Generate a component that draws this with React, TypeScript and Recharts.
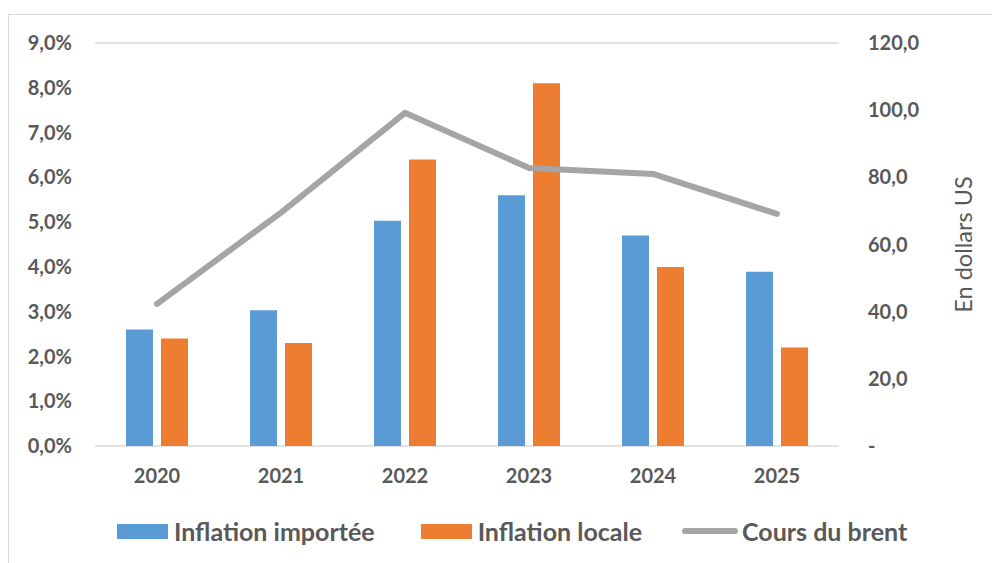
import React from 'react';
import {
  ComposedChart,
  Bar,
  Line,
  XAxis,
  YAxis,
  CartesianGrid,
  Legend,
  Label,
} from 'recharts';

const years = ['2020', '2021', '2022', '2023', '2024', '2025'];
const inflationImportee = [2.6, 3.03, 5.03, 5.6, 4.7, 3.89];
const inflationLocale = [2.4, 2.3, 6.4, 8.1, 4.0, 2.2];
const coursBrent = [42.3, 69.5, 99.2, 82.8, 81.0, 69.1];
const leftTicks = [0, 1, 2, 3, 4, 5, 6, 7, 8, 9];
const rightTicks = [0, 20, 40, 60, 80, 100, 120];

const data = years.map((year, i) => ({
  year,
  importee: inflationImportee[i],
  locale: inflationLocale[i],
  brent: coursBrent[i],
}));

const BLUE = '#5B9BD5';
const ORANGE = '#ED7D31';
const GRAY = '#A5A5A5';
const TEXT = '#595959';
const FONT = 'Lato, "Open Sans", sans-serif';

const tickStyle = { fill: TEXT, fontSize: 20, fontWeight: 700, fontFamily: FONT };

const fmtPct = (v: number) => v.toFixed(1).replace('.', ',') + '%';
const fmtUsd = (v: number) => (v === 0 ? '-' : v.toFixed(1).replace('.', ','));

const LegendBox = () => {
  const txt: React.CSSProperties = {
    color: TEXT,
    fontSize: 25,
    fontWeight: 700,
    fontFamily: FONT,
    whiteSpace: 'nowrap',
  };
  return (
    <div style={{ display: 'flex', alignItems: 'center', height: 30 }}>
      <div style={{ width: 51, height: 15, background: BLUE, marginRight: 6 }} />
      <span style={{ ...txt, marginRight: 46 }}>Inflation importée</span>
      <div style={{ width: 51, height: 15, background: ORANGE, marginRight: 6 }} />
      <span style={{ ...txt, marginRight: 40 }}>Inflation locale</span>
      <div style={{ width: 56, height: 6, borderRadius: 3, background: GRAY, marginRight: 4 }} />
      <span style={txt}>Cours du brent</span>
    </div>
  );
};

const AxisTitle = (props: any) => {
  const vb = props.viewBox || { x: 0, y: 0, width: 0, height: 0 };
  const x = vb.x + 124;
  const y = vb.y + vb.height / 2;
  return (
    <text
      x={x}
      y={y}
      transform={`rotate(-90 ${x} ${y})`}
      textAnchor="middle"
      dominantBaseline="central"
      fill={TEXT}
      fontSize={23.5}
      fontFamily={FONT}
    >
      En dollars US
    </text>
  );
};

export default function App() {
  return (
    <div
      style={{
        position: 'absolute',
        left: 8,
        top: 14,
        width: 990,
        height: 560,
        borderTop: '1px solid #d9d9d9',
        borderLeft: '1px solid #d9d9d9',
      }}
    >
      <ComposedChart
        width={983}
        height={548}
        data={data}
        margin={{ top: 28, right: 0, bottom: 27, left: 0 }}
        barGap={8}
        style={{ fontFamily: FONT }}
      >
        <CartesianGrid vertical={false} stroke="#d9d9d9" strokeWidth={1.5} />
        <XAxis
          dataKey="year"
          height={60}
          axisLine={false}
          tickLine={false}
          tickSize={0}
          tickMargin={23}
          tick={tickStyle}
        />
        <YAxis
          yAxisId="left"
          width={86}
          domain={[0, 9]}
          ticks={leftTicks}
          tickFormatter={fmtPct}
          axisLine={false}
          tickLine={false}
          tickSize={0}
          tickMargin={23}
          tick={tickStyle}
        />
        <YAxis
          yAxisId="right"
          orientation="right"
          width={153}
          domain={[0, 120]}
          ticks={rightTicks}
          tickFormatter={fmtUsd}
          axisLine={false}
          tickLine={false}
          tickSize={0}
          tickMargin={29}
          tick={tickStyle}
        >
          <Label content={AxisTitle} />
        </YAxis>
        <Legend
          verticalAlign="bottom"
          content={LegendBox}
          wrapperStyle={{ left: 108, top: 501, bottom: 'auto', width: 'auto', height: 30 }}
        />
        <Bar yAxisId="left" dataKey="importee" name="Inflation importée" fill={BLUE} barSize={27} isAnimationActive={false} />
        <Bar yAxisId="left" dataKey="locale" name="Inflation locale" fill={ORANGE} barSize={27} isAnimationActive={false} />
        <Line
          yAxisId="right"
          type="linear"
          dataKey="brent"
          name="Cours du brent"
          stroke={GRAY}
          strokeWidth={6}
          strokeLinecap="round"
          strokeLinejoin="round"
          dot={false}
          activeDot={false}
          isAnimationActive={false}
        />
      </ComposedChart>
    </div>
  );
}
